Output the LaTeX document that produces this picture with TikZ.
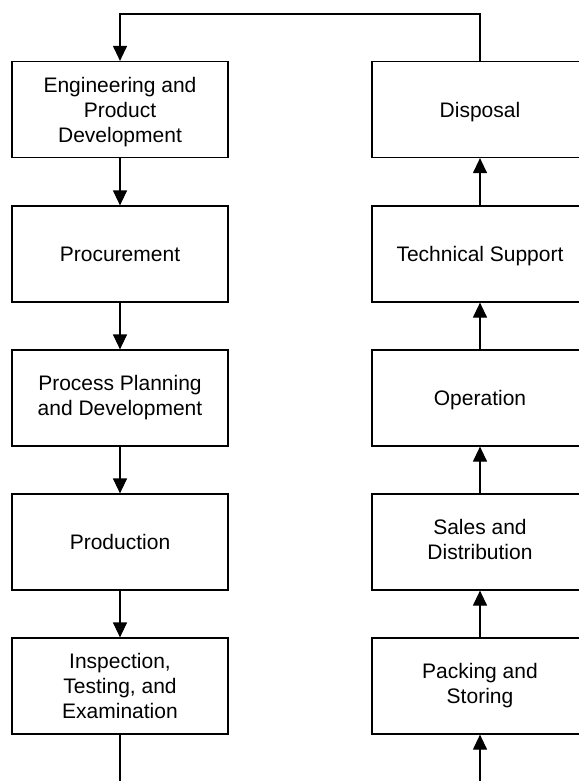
\documentclass[tikz,border=0pt]{standalone}
\usepackage{fontspec}
\setmainfont{Liberation Sans}
\usetikzlibrary{arrows.meta}
\begin{document}
\begin{tikzpicture}[x=1pt,y=-1pt,
  stage/.style={draw=black, line width=1.2pt, rectangle, minimum width=216pt,
    minimum height=96pt, align=center, inner sep=0pt, text depth=0pt,
    font=\fontsize{21}{25}\selectfont},
  twoline/.style={stage, text depth=5.4pt},
  flow/.style={draw=black, line width=1.2pt, -{Triangle[length=15pt,width=14pt]}},
  link/.style={draw=black, line width=1.2pt}]
\useasboundingbox (0,0) rectangle (578,781);

% left column: development and production
\node[stage]   (eng)  at (120,109.5) {Engineering and\\Product\\Development};
\node[stage]   (proc) at (120,254) {Procurement};
\node[twoline] (plan) at (120,398) {Process Planning\\and Development};
\node[stage]   (prod) at (120,542) {Production};
\node[stage]   (insp) at (120,686) {Inspection,\\Testing, and\\Examination};

% right column: delivery and service life
\node[stage]   (disp) at (480,109.5) {Disposal};
\node[stage]   (tech) at (480,254) {Technical Support};
\node[stage]   (oper) at (480,398) {Operation};
\node[twoline] (sale) at (480,542) {Sales and\\Distribution};
\node[twoline] (pack) at (480,686) {Packing and\\Storing};

% downward flow on the left
\draw[flow] (eng) -- (proc);
\draw[flow] (proc) -- (plan);
\draw[flow] (plan) -- (prod);
\draw[flow] (prod) -- (insp);

% upward flow on the right
\draw[flow] (pack) -- (sale);
\draw[flow] (sale) -- (oper);
\draw[flow] (oper) -- (tech);
\draw[flow] (tech) -- (disp);

% return loop from disposal back to engineering
\coordinate (topR) at (480,14);
\coordinate (topL) at (120,14);
\draw[flow] (disp.north) -- (topR) -- (topL) -- (eng.north);

% open ends at the bottom edge
\coordinate (botL) at (120,781);
\coordinate (botR) at (480,781);
\draw[link] (insp.south) -- (botL);
\draw[flow] (botR) -- (pack.south);
\end{tikzpicture}
\end{document}
